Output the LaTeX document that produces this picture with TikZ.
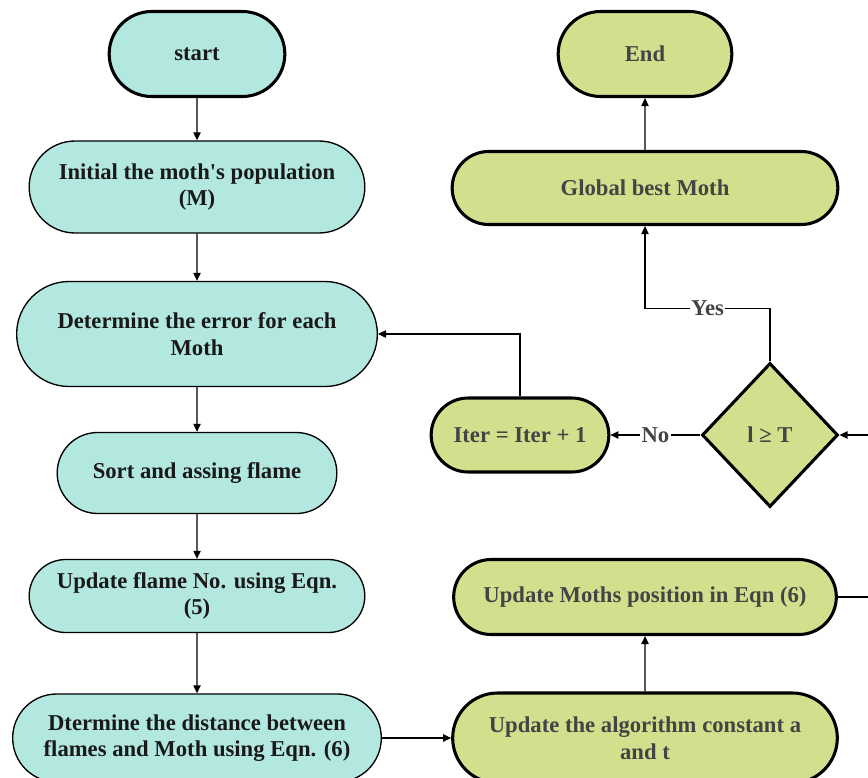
\documentclass[tikz,border=0pt]{standalone}
\usepackage{fontspec}
\setmainfont{Liberation Serif}[Ligatures=TeXOff]
\usetikzlibrary{shapes.misc,shapes.geometric,arrows.meta}
\definecolor{teal1}{RGB}{178,232,224}
\definecolor{green1}{RGB}{210,224,142}
\definecolor{txtg}{RGB}{68,68,68}
\begin{document}
\begin{tikzpicture}[x=0.75pt,y=-0.75pt,
  sz/.style 2 args={minimum width=#1*0.75pt, minimum height=#2*0.75pt},
  base/.style={rounded rectangle, inner sep=2pt, align=center,
     font=\bfseries\fontsize{17}{20}\selectfont},
  tbox/.style={base, draw=black, fill=teal1, line width=1pt, text=black!90},
  tboxk/.style={tbox, line width=2.3pt},
  gbox/.style={base, draw=black, fill=green1, line width=2.3pt, text=txtg},
  dbox/.style={diamond, draw=black, fill=green1, line width=2.3pt, inner sep=0pt,
     text=txtg, font=\bfseries\fontsize{17}{20}\selectfont},
  arr/.style={line width=0.9pt, -{Triangle[length=6pt,width=5.5pt]}},
  ln/.style={line width=0.9pt},
  lab/.style={fill=white, inner sep=1pt, text=txtg, font=\bfseries\fontsize{17}{20}\selectfont}]
\useasboundingbox (0,0) rectangle (868,778);

\node[tboxk, sz={181}{85}] (start) at (197,54) {start};
\node[tbox, sz={341}{92}] (init) at (197,187) {Initial the moth's population\\(M)};
\node[tbox, sz={366}{105}] (err) at (197,334) {Determine the error for each\\Moth};
\node[tbox, sz={285}{81}] (sort) at (197,473) {Sort and assing flame};
\node[tbox, sz={341}{73}] (upd) at (197,596) {Update flame No. using Eqn.\\(5)};
\node[tbox, sz={374}{88}] (dist) at (197,738) {Dtermine the distance between\\flames and Moth using Eqn. (6)};

\node[gbox, sz={390}{90}] (alg) at (645,738) {Update the algorithm constant a\\and t};
\node[gbox, sz={388}{75}] (mpos) at (645,597) {Update Moths position in Eqn (6)};
\node[dbox, sz={136}{144}] (dia) at (770,435) {l ≥ T};
\node[gbox, sz={183}{74}] (iter) at (520,435) {Iter = Iter + 1};
\node[gbox, sz={391}{73}] (gbest) at (645,188) {Global best Moth};
\node[gbox, sz={179}{85}] (end) at (645,54) {End};

\coordinate (rout) at (880,597);
\coordinate (rin) at (880,435);

\draw[arr] (start) -- (init);
\draw[arr] (init) -- (err);
\draw[arr] (err) -- (sort);
\draw[arr] (sort) -- (upd);
\draw[arr] (upd) -- (dist);
\draw[arr] (dist.east) -- (dist.east -| alg.west);
\draw[arr] (alg) -- (mpos);
\draw[ln] (mpos.east) -- (rout);
\draw[arr] (rin) -- (dia.east);
\draw[arr] (dia.west) -- node[lab]{No} (iter.east);
\draw[arr] (iter.north) |- (err.east);
\draw[arr] (dia.north) -- ++(0,-53) -| node[lab,pos=0.25]{Yes} (gbest.south);
\draw[arr] (gbest) -- (end);
\end{tikzpicture}
\end{document}
